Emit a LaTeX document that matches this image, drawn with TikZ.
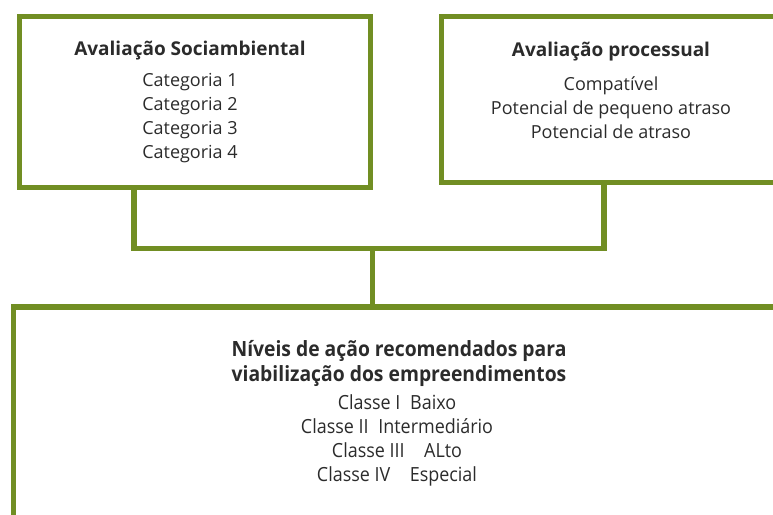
\documentclass[tikz,border=0pt]{standalone}
\usepackage{fontspec}
\setmainfont{Open Sans}
\newfontfamily\condfont[FakeStretch=0.92]{Open Sans}
\definecolor{olive}{RGB}{113,142,35}
\definecolor{ink}{RGB}{43,43,43}
\tikzset{
  box/.style={draw=olive, line width=5.4pt, inner sep=0pt, anchor=north west},
  link/.style={draw=olive, line width=5.4pt},
  head/.style={text=ink, font=\fontsize{19}{24}\selectfont\bfseries, anchor=base},
  items/.style={text=ink, font=\fontsize{18}{24}\selectfont, align=center, anchor=base},
}
\begin{document}
\begin{tikzpicture}[x=1pt,y=1pt]
  \useasboundingbox (0,0) rectangle (773,-514);
  \clip (0,0) rectangle (773,-514);

  \node[box, minimum width=351.3pt, minimum height=170.7pt] (socio) at (16.7,-13.8) {};
  \node[box, minimum width=344.6pt, minimum height=165.7pt] (proc) at (438.7,-13.8) {};
  \node[box, minimum width=775pt, minimum height=260pt] (niveis) at (10.7,-304.3) {};

\node[head] (sociohead) at (190,-55){Avaliação Sociambiental};
\node[items] (socioitems) at (190,-158){Categoria 1\\Categoria 2\\Categoria 3\\Categoria 4};

\node[head] (prochead) at (611,-56){Avaliação processual};
\node[items] (procitems) at (611,-138){Compatível\\Potencial de pequeno atraso\\Potencial de atraso};

\node[text=ink, align=center, anchor=base, font=\condfont\fontsize{21}{25}\selectfont\bfseries] (niveishead) at (399,-381.7){Níveis de ação recomendados para\\viabilização dos empreendimentos};
\node[text=ink, align=center, anchor=base, font=\condfont\fontsize{19.5}{24}\selectfont] (niveisitems) at (397,-481.7){Classe I\enspace Baixo\\Classe II\enspace Intermediário\\Classe III\quad ALto\\Classe IV\quad Especial};

  \coordinate (hub) at (372.7,-248.7);
  \draw[link] ([xshift=117.3pt]socio.south west) |- (hub) -| ([xshift=165.3pt]proc.south west);
  \draw[link] (hub) -- (hub |- niveis.north);
\end{tikzpicture}
\end{document}
